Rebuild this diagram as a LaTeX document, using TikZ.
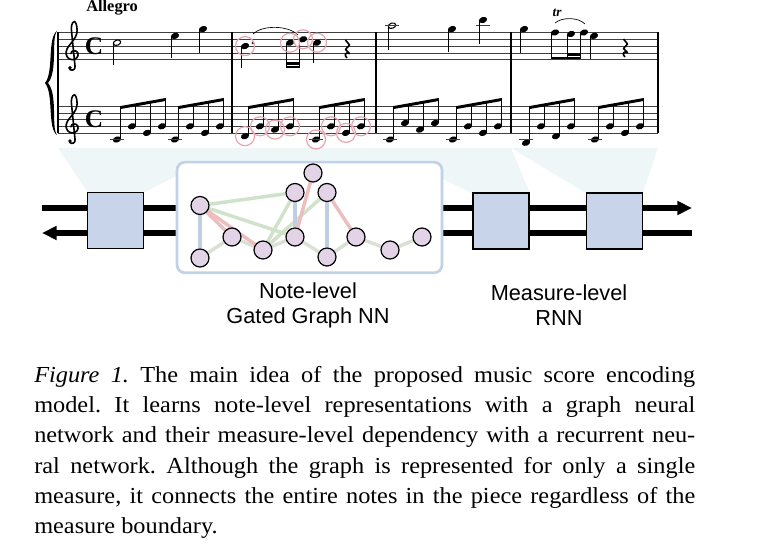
\documentclass[tikz,border=0pt]{standalone}
\usepackage{fontspec}
\setmainfont{Liberation Serif}
\newfontfamily\labelfont{Liberation Sans}
\newfontfamily\capfont[FakeStretch=1.06]{Liberation Serif}
\usetikzlibrary{arrows.meta}

\definecolor{nodefill}{RGB}{226,211,230}
\definecolor{boxfill}{RGB}{200,212,234}
\definecolor{framecol}{RGB}{192,209,232}
\definecolor{egreen}{RGB}{208,226,202}
\definecolor{egrey}{RGB}{218,224,212}
\definecolor{ered}{RGB}{238,190,190}
\definecolor{eblue}{RGB}{192,206,228}
\definecolor{ringcol}{RGB}{230,165,175}
\definecolor{conecol}{RGB}{238,246,247}

\pgfdeclarelayer{back}
\pgfdeclarelayer{edges}
\pgfsetlayers{back,edges,main}

\newcommand{\nhead}[2]{\fill[rotate around={-20:(#1,#2)}] (#1,#2) ellipse (4.2 and 3);}
\newcommand{\hhead}[2]{\draw[line width=0.8pt,rotate around={-20:(#1,#2)}] (#1,#2) ellipse (3.8 and 2.6);}
\newcommand{\stemdn}[3]{\draw[stem] (#1-3.7,#2) -- (#1-3.7,#3);}
\newcommand{\ledger}[2]{\draw[staffline] (#1-7,#2) -- (#1+7,#2);}
\newcommand{\qrest}[2]{\draw[line width=1.2pt,line join=round] (#1-1.5,#2-8) -- (#1+2.5,#2-3) -- (#1-1.5,#2+1.5) -- (#1+2.5,#2+5.5) .. controls (#1-2,#2+3.5) and (#1-3,#2+7.5) .. (#1,#2+10);}
\newcommand{\bassgrp}[5]{%
  \foreach \k/\yy in {0/#2,1/#3,2/#4,3/#5}{%
    \nhead{#1+15*\k}{\yy}
    \draw[stem] (#1+15*\k+3.7,\yy) -- (#1+15*\k+3.7,106.5-2.67*\k);
    \ifdim\yy pt>138pt \ledger{#1+15*\k}{139.5}\fi
  }
  \draw[beam] (#1+3.7,107.5) -- (#1+48.7,99.5);}
\newcommand{\gclef}[2]{%
  \begin{scope}[shift={(#1,#2)},x=5.1pt,y=-5.1pt]
    \draw[line width=1.2pt,line cap=round] (-0.15,0.9) .. controls (-0.15,1.4) and (0.6,1.5) .. (0.85,1.0)
      .. controls (1.05,0.5) and (0.6,0.0) .. (0.05,0.0)
      .. controls (-0.6,0.0) and (-0.95,0.6) .. (-0.85,1.2)
      .. controls (-0.7,2.2) and (0.75,2.9) .. (0.75,4.3)
      .. controls (0.75,5.0) and (0.55,5.6) .. (0.35,5.6)
      .. controls (0.0,5.6) and (-0.2,4.8) .. (-0.05,4.0)
      -- (0.45,-1.0)
      .. controls (0.5,-1.5) and (0.0,-1.7) .. (-0.35,-1.4);
    \fill (-0.3,-1.2) circle (0.28);
  \end{scope}}

\begin{document}
\begin{tikzpicture}[x=0.75pt,y=0.75pt,yscale=-1,
  staffline/.style={line width=0.5pt,black!75},
  bar/.style={line width=0.9pt},
  stem/.style={line width=0.7pt},
  beam/.style={line width=2.2pt},
  slur/.style={line width=0.5pt},
  ring/.style={draw=ringcol,line width=0.9pt},
  cone/.style={fill=conecol},
  bus/.style={line width=3.8pt},
  frame/.style={draw=framecol,fill=white,line width=2pt,rounded corners=6pt,minimum width=198.75pt,minimum height=83pt},
  rnn/.style={draw,fill=boxfill,line width=0.9pt,minimum width=42pt,minimum height=42pt},
  gn/.style={circle,draw,fill=nodefill,line width=0.9pt,minimum size=13.5pt,inner sep=0pt},
  eb/.style={draw=eblue,line width=2.6pt},
  eg/.style={draw=egreen,line width=2.6pt},
  egy/.style={draw=egrey,line width=2.6pt},
  er/.style={draw=ered,line width=2.6pt},
  timesig/.style={font=\fontsize{19}{19}\selectfont\bfseries},
  lbl/.style={font=\labelfont\fontsize{16.3}{18.8}\selectfont,align=center,inner sep=0pt},
  caption/.style={anchor=north west,text width=495.75pt,align=justify,inner sep=0pt,font=\capfont\fontsize{17.2}{22.65}\selectfont\frenchspacing}]
\useasboundingbox (0,0) rectangle (773,555);

\node[anchor=west,inner sep=0pt] (tempo) at (86,8) {\fontsize{12.3}{12}\selectfont\bfseries Allegro};
\foreach \i in {0,...,4} {
  \draw[staffline] (58,32.5+6.8*\i) -- (658,32.5+6.8*\i);
  \draw[staffline] (58,106.5+6.6*\i) -- (658,106.5+6.6*\i);
}
\foreach \bx in {58,232,376,511,658} \draw[bar] (\bx,32.5) -- (\bx,132.9);
\fill (57,31) .. controls (47,38) and (54,72) .. (45,83) .. controls (54,94) and (47,128) .. (57,135) .. controls (51,127) and (58,95) .. (48,83) .. controls (58,71) and (51,39) .. (57,31) -- cycle;
\gclef{72}{59.7}
\gclef{72}{132.9}
\node[timesig] (time1) at (94,46.1) {C};
\node[timesig] (time2) at (94,119.7) {C};

\hhead{117}{42.7}\stemdn{117}{43.5}{65}
\nhead{175}{35.9}\stemdn{175}{36}{58}
\nhead{203}{29.1}\stemdn{203}{29}{53}

\nhead{245}{46.1}\stemdn{245}{46}{68}
\fill (253,43) circle (1.3);
\nhead{290}{42.7}\stemdn{290}{43}{68}
\nhead{303}{39.3}\stemdn{303}{39}{68}
\draw[beam] (286.3,67) -- (299.3,67);
\draw[beam] (286.3,63.3) -- (299.3,63.3);
\nhead{317}{42.7}\stemdn{317}{43}{63}
\qrest{347}{48}
\draw[slur] (253,34) .. controls (262,25) and (288,25) .. (298,35);

\hhead{392}{25.7}\ledger{392}{25.7}\stemdn{392}{26}{50}
\nhead{452}{29.1}\stemdn{452}{29}{52}
\nhead{483}{20}\ledger{483}{25.7}\stemdn{483}{20}{44}

\nhead{524}{29.1}\stemdn{524}{29}{53}
\nhead{555}{32.5}\stemdn{555}{32.5}{59}
\nhead{571}{34}\stemdn{571}{34}{59}
\nhead{584}{32.5}\stemdn{584}{32.5}{59}
\draw[beam] (551.3,58) -- (580.3,58);
\draw[beam] (567.3,54.3) -- (580.3,54.3);
\nhead{594}{35.9}\stemdn{594}{36}{59}
\qrest{625}{47}
\node (trill) at (557,13) {\fontsize{10}{10}\selectfont\bfseries\itshape tr};
\draw[slur] (555,23) .. controls (562,17) and (578,17) .. (585,24);

\bassgrp{117}{139.5}{126.3}{132.9}{126.3}
\bassgrp{175}{139.5}{126.3}{132.9}{126.3}
\bassgrp{245}{136.2}{126.3}{129.6}{126.3}
\bassgrp{316}{139.5}{126.3}{132.9}{126.3}
\bassgrp{390}{139.5}{123}{129.6}{123}
\bassgrp{453}{139.5}{126.3}{132.9}{126.3}
\bassgrp{526}{142.8}{126.3}{136.2}{126.3}
\bassgrp{595}{139.5}{126.3}{132.9}{126.3}

\foreach \rx/\ry in {245/46.1,290/42.7,303/39.3,317/42.7,245/136.2,260/126.3,275/129.6,290/126.3,316/139.5,331/126.3,346/132.9,361/126.3}
  \draw[ring] (\rx,\ry) circle (9.5);

\begin{pgfonlayer}{back}
\fill[cone] (58,148) -- (232,148) -- (143,193) -- (88,193) -- cycle;
\fill[cone] (232,148) -- (376,148) -- (442,162) -- (177,162) -- cycle;
\fill[cone] (376,148) -- (511,148) -- (530,193) -- (472,193) -- cycle;
\fill[cone] (511,148) -- (658,148) -- (643,193) -- (586,193) -- cycle;
\coordinate (tl) at (42,208);
\coordinate (tr) at (692,208);
\coordinate (bl) at (42,233);
\coordinate (br) at (692,233);
\draw[bus,-{Triangle[length=11pt,width=10pt]}] (tl) -- (tr);
\draw[bus,-{Triangle[length=11pt,width=10pt]}] (br) -- (bl);
\node[frame] (gframe) at (309.5,217.5) {};
\end{pgfonlayer}

\node[rnn] (box1) at (115.5,220.5) {};
\node[rnn] (box3) at (501,221) {};
\node[rnn] (box4) at (614.5,221) {};

\foreach \n/\px/\py in {1/200/205.5,2/200/258,3/232/237,4/263/250,5/295/192.5,6/295/237,7/313/173,8/327/192.5,9/327/257,10/356/237,11/390/250,12/422/237}
  \node[gn] (g\n) at (\px,\py) {};

\begin{pgfonlayer}{edges}
\foreach \a/\b in {2/3,3/4,4/6,6/9,9/10,10/11,11/12} \draw[egy] (g\a) -- (g\b);
\foreach \a/\b in {1/5,1/6,4/5,4/8} \draw[eg] (g\a) -- (g\b);
\foreach \a/\b in {1/2,5/6,8/9} \draw[eb] (g\a) -- (g\b);
\foreach \a/\b in {1/3,1/4,6/7,8/10} \draw[er] (g\a) -- (g\b);
\end{pgfonlayer}

\node[lbl] (gnnlabel) at (308,305) {Note-level\\Gated Graph NN};
\node[lbl] (rnnlabel) at (559,305) {Measure-level\\RNN};

\node[caption] (cap) at (34,366) {{\itshape Figure 1.} The main idea of the proposed music score encoding\linebreak model. It learns note-level representations with a graph neural\linebreak network and their measure-level dependency with a recurrent neu-\linebreak ral network. Although the graph is represented for only a single\linebreak measure, it connects the entire notes in the piece regardless of the\linebreak measure boundary.};
\end{tikzpicture}
\end{document}
